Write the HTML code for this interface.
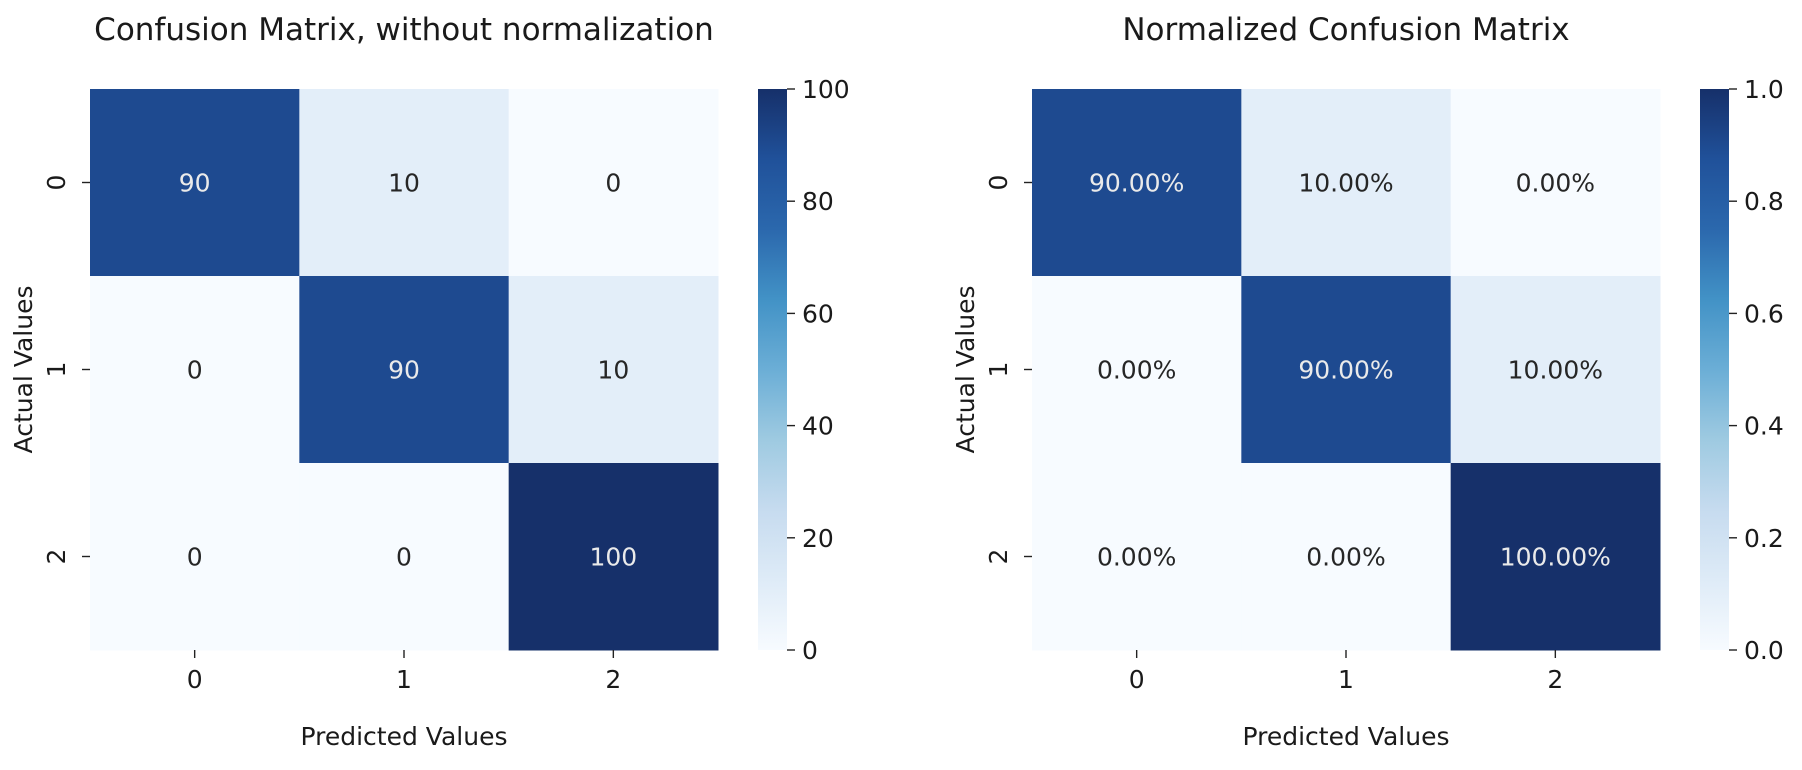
<!DOCTYPE html>
<html><head><meta charset="utf-8"><style>
html,body{margin:0;padding:0;background:#fff;}
svg{display:block;font-family:"DejaVu Sans","Liberation Sans",sans-serif;}
</style></head><body>
<svg id="fig" width="1802" height="770">
<defs>
<linearGradient id="blues" x1="0" y1="1" x2="0" y2="0">
<stop offset="0" stop-color="#f7fbff"/><stop offset="0.125" stop-color="#deebf7"/><stop offset="0.25" stop-color="#c6dbef"/><stop offset="0.375" stop-color="#9ecae1"/><stop offset="0.5" stop-color="#6baed6"/><stop offset="0.625" stop-color="#4292c6"/><stop offset="0.75" stop-color="#2b68ad"/><stop offset="0.875" stop-color="#20519a"/><stop offset="1" stop-color="#16306a"/>
</linearGradient>
</defs>
</svg>
<script>
const categories = ["0","1","2"];
const countValues = [[90,10,0],[0,90,10],[0,0,100]];
const normValues = [[0.9,0.1,0],[0,0.9,0.1],[0,0,1.0]];
const countTicks = [0,20,40,60,80,100];
const normTicks = [0,0.2,0.4,0.6,0.8,1.0];

const NS = "http://www.w3.org/2000/svg";
const svg = document.getElementById("fig");
const stops = [[247,251,255],[222,235,247],[198,219,239],[158,202,225],[107,174,214],[66,146,198],[43,104,173],[32,81,154],[22,48,106]];
function blues(t){
  t=Math.max(0,Math.min(1,t));
  const p=t*8, i=Math.min(7,Math.floor(p)), f=p-i;
  const c=stops[i].map((v,k)=>Math.round(v+(stops[i+1][k]-v)*f));
  return `rgb(${c[0]},${c[1]},${c[2]})`;
}
function el(tag, attrs, text){
  const e=document.createElementNS(NS,tag);
  for(const k in attrs) e.setAttribute(k,attrs[k]);
  if(text!==undefined) e.textContent=text;
  svg.appendChild(e);
  return e;
}
function panel(x0, vals, vmax, ticks, fmt, tfmt, title, key){
  const y0=89, W=628, H=561, cw=W/categories.length, ch=H/categories.length;
  const xs=i=>x0+i*cw, ys=j=>y0+j*ch;
  let t=el("text",{x:x0+W/2,y:40,"text-anchor":"middle","font-size":"31",fill:"#1a1a1a"},title);
  
  
  vals.forEach((row,j)=>row.forEach((v,i)=>{
    const r=el("rect",{x:xs(i),y:ys(j),width:cw+0.5,height:ch+0.5,fill:blues(v/vmax)});
    
    
    const a=el("text",{x:xs(i)+cw/2,y:ys(j)+ch/2+9,"text-anchor":"middle","font-size":"25",fill:(v/vmax>0.6?"#eaeaea":"#262626")},fmt(v));
    
    
  }));
  categories.forEach((c,i)=>{
    el("line",{x1:xs(i)+cw/2,x2:xs(i)+cw/2,y1:y0+H,y2:y0+H+8,stroke:"#222","stroke-width":1.4});
    const tx=el("text",{x:xs(i)+cw/2,y:y0+H+38,"text-anchor":"middle","font-size":"25",fill:"#1a1a1a"},c);
    
    
    const yc=ys(i)+ch/2;
    el("line",{x1:x0-8,x2:x0,y1:yc,y2:yc,stroke:"#222","stroke-width":1.4});
    const ty=el("text",{x:0,y:0,"text-anchor":"middle","font-size":"25",fill:"#1a1a1a",transform:`translate(${x0-25},${yc}) rotate(-90)`},c);
    
    
  });
  const xl=el("text",{x:x0+W/2,y:745,"text-anchor":"middle","font-size":"25",fill:"#1a1a1a"},"Predicted Values");
  
  
  const yl=el("text",{x:0,y:0,"text-anchor":"middle","font-size":"25",fill:"#1a1a1a",transform:`translate(${x0-58},${y0+H/2}) rotate(-90)`},"Actual Values");
  
  
  const cx=x0+W+40, cwid=29;
  const cb=el("rect",{x:cx,y:y0,width:cwid,height:H,fill:"url(#blues)"});
  
  
  ticks.forEach(v=>{
    const y=y0+H-(v/vmax)*H;
    el("line",{x1:cx+cwid,x2:cx+cwid+8,y1:y,y2:y,stroke:"#222","stroke-width":1.4});
    const l=el("text",{x:cx+cwid+15,y:y+9,"font-size":"25",fill:"#1a1a1a"},tfmt(v));
    
    
  });
}
panel(90, countValues, 100, countTicks, v=>String(v), v=>String(v), "Confusion Matrix, without normalization", "counts");
panel(1032, normValues, 1.0, normTicks, v=>(v*100).toFixed(2)+"%", v=>v.toFixed(1), "Normalized Confusion Matrix", "normalized");
</script>
</body></html>
